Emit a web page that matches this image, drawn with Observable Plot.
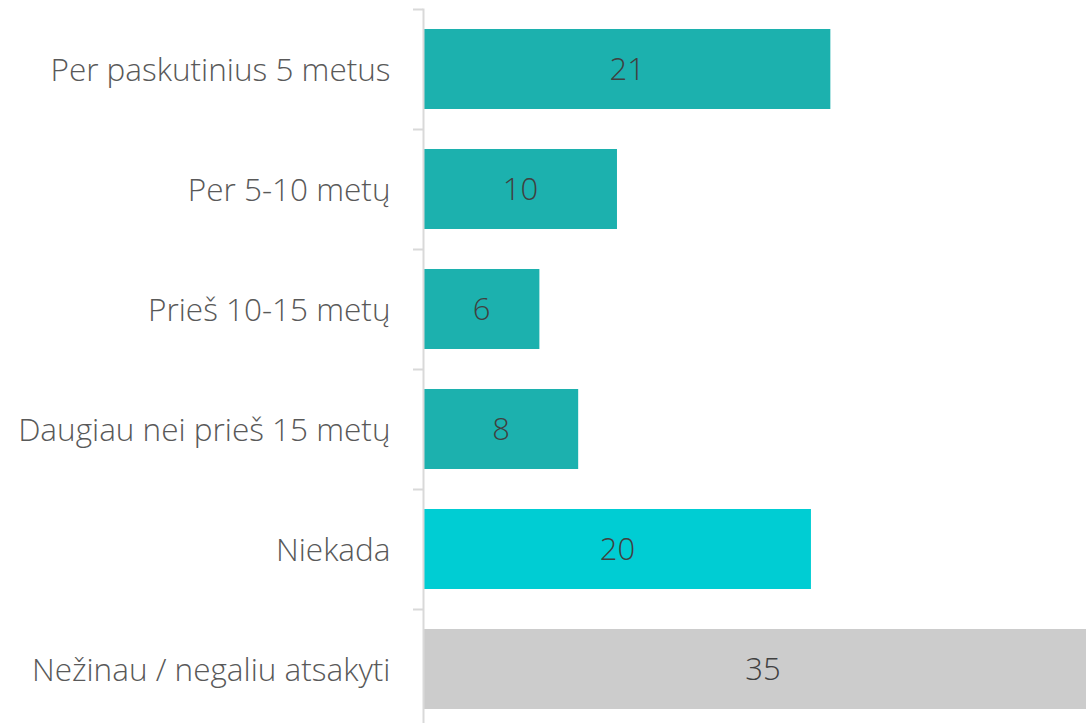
<!DOCTYPE html>
<html>
<head>
<meta charset="utf-8">
<script src="https://cdn.jsdelivr.net/npm/d3@7"></script>
<script src="https://cdn.jsdelivr.net/npm/@observablehq/plot@0.6"></script>
<style>
  html, body { margin: 0; padding: 0; background: #fff; overflow: hidden; }
  svg { font-family: "Open Sans", Lato, sans-serif; }
</style>
</head>
<body>
<div id="chart"></div>
<script>
const categories = [
  "Per paskutinius 5 metus",
  "Per 5-10 metų",
  "Prieš 10-15 metų",
  "Daugiau nei prieš 15 metų",
  "Niekada",
  "Nežinau / negaliu atsakyti"
];
const values = [21, 10, 6, 8, 20, 35];
const groups = ["a", "a", "a", "a", "b", "c"];
const groupColors = {a: "#1cb1ae", b: "#00cdd3", c: "#cccccc"};

const data = categories.map((c, i) => ({category: c, value: values[i], group: groups[i]}));

const chart = Plot.plot({
  width: 1086,
  height: 729,
  marginLeft: 423,
  marginRight: 0,
  marginTop: 8.5,
  marginBottom: 0,
  style: {fontFamily: "'Open Sans', Lato, sans-serif", background: "#fff"},
  x: {domain: [0, 34.18], axis: null},
  y: {domain: categories, paddingInner: 0.333, paddingOuter: 0.1665, axis: null, label: null},
  marks: [
    Plot.barX(data, {y: "category", x: "value", fill: d => groupColors[d.group], clip: true}),
    Plot.ruleX([0], {stroke: "#d9d9d9", strokeWidth: 2}),
    Plot.axisY({tickSize: 10, text: null, label: null, stroke: "#d9d9d9", strokeWidth: 2, dy: -60, anchor: "left"}),
    Plot.axisY({tickSize: 0, tickPadding: 33, label: null, anchor: "left", fontSize: 31.5, fontWeight: 300, fill: "#595959", dy: 1}),
    Plot.text(data, {y: "category", x: d => d.value / 2, text: d => String(d.value), fontSize: 31, fontWeight: 300, fill: "#404040", dy: 1})
  ]
});
document.getElementById("chart").appendChild(chart);
</script>
</body>
</html>
